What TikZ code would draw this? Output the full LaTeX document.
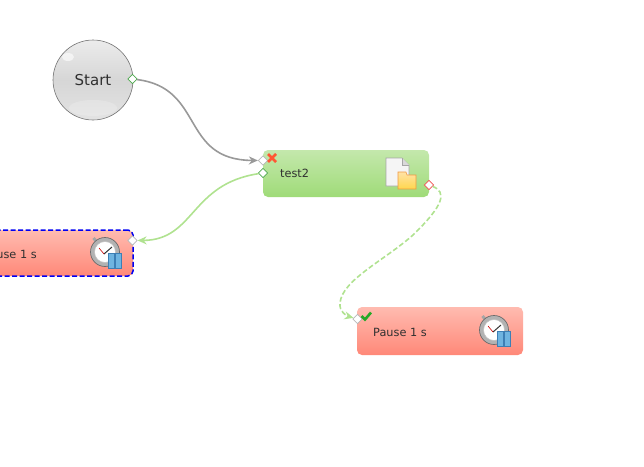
\documentclass[tikz,border=0pt]{standalone}
\usepackage{fontspec}
\setmainfont{DejaVu Sans}
\usetikzlibrary{positioning,shapes.geometric,arrows.meta}
\definecolor{taskgreentop}{HTML}{C4E8AC}
\definecolor{taskgreenbot}{HTML}{9FDB78}
\definecolor{pausetop}{HTML}{FFBBB0}
\definecolor{pausebot}{HTML}{FF8878}
\definecolor{linkgreen}{HTML}{B0E290}
\definecolor{linkgray}{HTML}{999999}
\definecolor{portgreen}{HTML}{4FA84F}
\definecolor{portred}{HTML}{F05050}
\definecolor{portgray}{HTML}{B8B8B8}
\definecolor{textdark}{HTML}{303030}
\definecolor{barblue}{HTML}{6FB4E0}
\definecolor{barline}{HTML}{3D7FB5}
\tikzset{
	pics/watch/.style={code={
			\draw[gray!70,line width=3pt] (-9,-11) -- (-11.5,-14);
			\fill[gray!60] (0,0) circle (14.5);
			\draw[gray!85!black,line width=.7pt] (0,0) circle (14.5);
			\fill[white,draw=gray!50,line width=.5pt] (0,0) circle (10.5);
			\draw[black!80,line width=1pt] (-1,2) -- (7,-5);
			\draw[red!80!black,line width=.6pt] (-1,2) -- (-6,-4);
			\draw[draw=barline,fill=barblue,line width=.7pt] (3,1) rectangle (9,16);
			\draw[draw=barline,fill=barblue,line width=.7pt] (10.5,1) rectangle (16.5,16);
	}},
	pics/filefolder/.style={code={
			\draw[gray!70,fill=gray!8,line width=.6pt] (0,0) -- (16,0) -- (23,7) -- (23,28) -- (0,28) -- cycle;
			\draw[gray!70,fill=gray!30,line width=.5pt] (16,0) -- (16,7) -- (23,7);
			\draw[draw=orange!70!brown!80,top color=yellow!35!orange!35,bottom color=yellow!55!orange!70,line width=.6pt] (12,14) -- (20,14) -- (21,17) -- (30,17) -- (30,31) -- (12,31) -- cycle;
	}},
	pics/crossmark/.style={code={
			\draw[red!65!orange!80,line width=2.6pt] (-4,-4) -- (4,4) (-4,4) -- (4,-4);
	}},
	pics/checkmark/.style={code={
			\draw[green!60!black!85,line width=2.6pt] (-4.5,0) -- (-1,3.5) -- (5,-3.5);
	}}
}
\begin{document}
\begin{tikzpicture}[
	x=1pt,y=-1pt,
	startball/.style={
		circle,
		draw=black!55,
		line width=.6pt,
		minimum size=80pt,
		inner sep=0pt,
		top color=gray!15,
		bottom color=gray!22,
		middle color=gray!32,
		font=\fontsize{15}{15}\selectfont,
		text=textdark
	},
	taskbox/.style={
		rectangle,
		rounded corners=5pt,
		minimum width=166pt,
		minimum height=47pt,
		inner sep=0pt
	},
	greenbox/.style={
		taskbox,
		top color=taskgreentop,
		bottom color=taskgreenbot
	},
	redbox/.style={
		taskbox,
		top color=pausetop,
		bottom color=pausebot
	},
	tasklabel/.style={
		anchor=west,
		inner sep=0pt,
		text=textdark,
		font=\fontsize{11.3}{13}\selectfont
	},
	port/.style={
		diamond,
		draw=#1,
		fill=white,
		line width=.8pt,
		minimum size=9.5pt,
		inner sep=0pt
	},
	link/.style={
		line width=1.6pt,
		-{Stealth[length=9pt,width=8pt]}
	}
	]
	\useasboundingbox (0,0) rectangle (644,466);
	\clip (0,0) rectangle (644,466);

	\node[startball] (start) at (93,80) {Start};
	\fill[white,opacity=.2] (93,108) ellipse (24 and 8);
	\fill[white,opacity=.6] (68,57) ellipse (6 and 4);

	\node[greenbox] (test) at (346,173.5) {};
	\node[redbox,minimum height=46pt,draw=blue!95!black,dash pattern=on 5pt off 2.5pt,line width=1.5pt] (pauseleft) at (50,253) {};
	\node[redbox,minimum height=48pt] (pauseright) at (440,331) {};

	\node[tasklabel] (testlabel) at (280,173) {test2};
	\node[tasklabel] (leftlabel) at (-17,254) {Pause 1 s};
	\node[tasklabel] (rightlabel) at (373,332) {Pause 1 s};

	\node[port=portgreen] (startout) at (132.5,79) {};
	\node[port=portgray] (testin) at (263,160.5) {};
	\node[port=portgreen] (testout) at (263,173) {};
	\node[port=portred] (testfail) at (429,185) {};
	\node[port=portgray] (leftin) at (132.5,240.5) {};
	\node[port=portgray] (rightin) at (357.5,319) {};

	\draw[link,draw=linkgray] (startout) .. controls (205,88) and (180,160) .. (testin);
	\draw[link,draw=linkgreen] (testout) .. controls (190,184) and (195,240) .. (leftin);
	\draw[link,draw=linkgreen,dash pattern=on 5pt off 2.5pt] (testfail) .. controls (447,192) and (444,205) .. (413,235)
		.. controls (385,260) and (342,280) .. (340,303)
		.. controls (339,312) and (347,316) .. (rightin);

	\pic at (386,158) {filefolder};
	\pic at (272,158) {crossmark};
	\pic at (366,316) {checkmark};
	\pic at (105,252) {watch};
	\pic at (494,330) {watch};
\end{tikzpicture}
\end{document}
